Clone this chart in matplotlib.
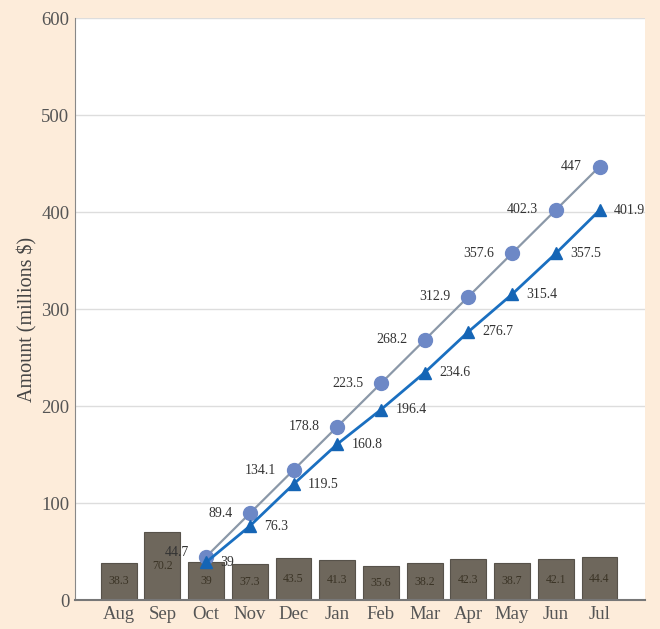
import matplotlib
matplotlib.use("Agg")
import matplotlib.pyplot as plt

months = ["Aug", "Sep", "Oct", "Nov", "Dec", "Jan", "Feb", "Mar", "Apr", "May", "Jun", "Jul"]
monthly = [38.3, 70.2, 39, 37.3, 43.5, 41.3, 35.6, 38.2, 42.3, 38.7, 42.1, 44.4]
plan_months = ["Oct", "Nov", "Dec", "Jan", "Feb", "Mar", "Apr", "May", "Jun", "Jul"]
plan_cum = [44.7, 89.4, 134.1, 178.8, 223.5, 268.2, 312.9, 357.6, 402.3, 447]
actual_cum = [39, 76.3, 119.5, 160.8, 196.4, 234.6, 276.7, 315.4, 357.5, 401.9]
yticks = [0, 100, 200, 300, 400, 500, 600]

plt.rcParams['font.family'] = ['Liberation Serif', 'DejaVu Serif']

fig = plt.figure(figsize=(6.6, 6.29), dpi=100)
fig.patch.set_facecolor('#fdecda')
ax = fig.add_axes([0.1136, 0.046, 0.863, 0.925])
ax.set_facecolor('white')

x = list(range(len(months)))
idx = [months.index(m) for m in plan_months]

ax.bar(x, monthly, width=0.82, color='#6e675c', edgecolor='#57524a', linewidth=0.8, zorder=2)
for xi, v in zip(x, monthly):
    ax.text(xi, v / 2, f"{v:g}", ha='center', va='center', fontsize=8.5, color='#3a3325', zorder=3)

ax.plot(idx, plan_cum, color='#8b98a8', linewidth=1.6, marker='o', markersize=10,
        markerfacecolor='#6d88c6', markeredgecolor='#6d88c6', zorder=4)
ax.plot(idx, actual_cum, color='#1a6fc0', linewidth=2, marker='^', markersize=9,
        markerfacecolor='#1565b5', markeredgecolor='#1565b5', zorder=5)

for i, (xi, v) in enumerate(zip(idx, plan_cum)):
    dy = 4 if i == 0 else 0
    ax.text(xi - 0.4, v + dy, f"{v:g}", ha='right', va='center', fontsize=10, color='#333333', zorder=6)
for xi, v in zip(idx, actual_cum):
    ax.text(xi + 0.33, v, f"{v:g}", ha='left', va='center', fontsize=10, color='#333333', zorder=6)

ax.set_xlim(-1.0, 12.03)
ax.set_ylim(0, 600)
ax.set_yticks(yticks)
ax.set_xticks(x)
ax.set_xticklabels(months)
ax.yaxis.grid(True, color='#dddddd', linewidth=1, zorder=0)
ax.set_axisbelow(True)
for s in ['top', 'right']:
    ax.spines[s].set_visible(False)
ax.spines['left'].set_color('#888888')
ax.spines['bottom'].set_color('#777777')
ax.spines['bottom'].set_linewidth(1.5)
ax.tick_params(axis='both', length=0, labelsize=13.5, labelcolor='#555555', pad=4)
ax.set_ylabel("Amount (millions $)", fontsize=14.5, color='#444444', labelpad=6)
ax.yaxis.set_label_coords(-0.066, 0.483)

fig.savefig("out.png", dpi=100, facecolor=fig.get_facecolor())
